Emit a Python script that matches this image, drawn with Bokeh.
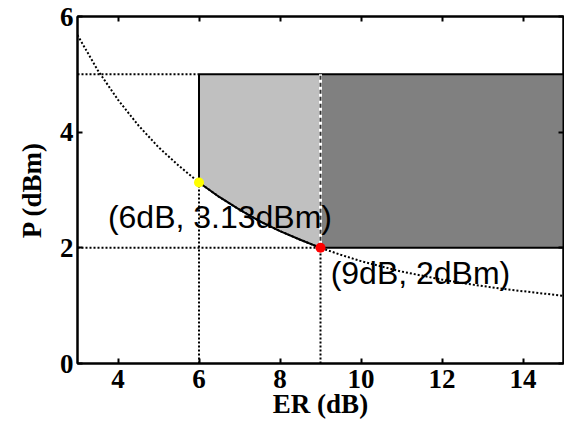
from bokeh.plotting import figure
from bokeh.models import Range1d, LinearAxis, FixedTicker
from bokeh.core.properties import value
from bokeh.embed import file_html
from bokeh.resources import INLINE

# curve: ER (dB) vs P (dBm)
er = [3.0, 3.5, 4.0, 4.5, 5.0, 5.5, 6.0, 6.5, 7.0, 7.5, 8.0, 8.5, 9.0,
      9.5, 10.0, 10.5, 11.0, 11.5, 12.0, 12.5, 13.0, 13.5, 14.0, 14.5, 15.0]
pw = [5.68, 5.07, 4.56, 4.12, 3.74, 3.42, 3.13, 2.88, 2.66, 2.46, 2.29, 2.14, 2.00,
      1.88, 1.77, 1.68, 1.59, 1.52, 1.45, 1.39, 1.34, 1.29, 1.25, 1.21, 1.17]

er_marks = [6, 9]
p_marks = [3.13, 2]
mark_colors = ["#ffff00", "#ff0000"]
mark_labels = ["(6dB, 3.13dBm)", "(9dB, 2dBm)"]
label_x = [3.75, 9.25]
label_y = [2.54, 1.57]
p_upper = 5
er_upper = 15
x_ticks = [4, 6, 8, 10, 12, 14]
y_ticks = [0, 2, 4, 6]

p = figure(frame_width=486, frame_height=347, output_backend="svg", toolbar_location=None,
           x_range=Range1d(3, 15), y_range=Range1d(0, 6),
           min_border_left=77, min_border_right=1, min_border_top=16, min_border_bottom=62,
           x_axis_location=None, y_axis_location=None)
p.grid.visible = False
p.outline_line_color = "black"
p.outline_line_width = 2
p.background_fill_color = "white"

# regions
seg_x = [x for x in er if er_marks[0] <= x <= er_marks[1]]
seg_y = [y for x, y in zip(er, pw) if er_marks[0] <= x <= er_marks[1]]
p.patch(seg_x + [er_marks[1], er_marks[0]], seg_y + [p_upper, p_upper],
        fill_color="#c0c0c0", line_color=None)
p.quad(left=[er_marks[1]], right=[er_upper], bottom=[p_marks[1]], top=[p_upper],
       fill_color="#808080", line_color=None)

# dotted guide lines
dot = dict(line_color="black", line_width=2, line_dash="2 2")
p.line([3, er_marks[0]], [p_upper, p_upper], **dot)
p.line([3, er_marks[1]], [p_marks[1], p_marks[1]], **dot)
p.line([er_marks[0], er_marks[0]], [0, p_marks[0]], **dot)
p.line([er_marks[1], er_marks[1]], [0, p_marks[1]], **dot)

# curve: dotted outside, solid between marks
p.line(er, pw, **dot)
p.line(seg_x, seg_y, line_color="black", line_width=2)

# region borders
p.line([er_marks[0], er_marks[0]], [p_marks[0], p_upper], line_color="black", line_width=2)
p.line([er_marks[0], er_upper], [p_upper, p_upper], line_color="black", line_width=2)
p.line([er_marks[1], er_upper], [p_marks[1], p_marks[1]], line_color="black", line_width=2)
p.line([er_marks[1], er_marks[1]], [p_marks[1], p_upper], line_color="white", line_width=3)
p.line([er_marks[1], er_marks[1]], [p_marks[1], p_upper], line_color="#333333", line_width=2,
       line_dash="4 3")

# points
p.scatter(er_marks, p_marks, size=10, fill_color=mark_colors, line_color=None)

p.text(label_x, label_y, text=mark_labels, text_font=value("Liberation Sans"),
       text_font_size="32px", text_baseline="middle", text_align="left", text_color="black")


def style_axis(ax, ticks):
    ax.ticker = FixedTicker(ticks=ticks)
    ax.axis_line_color = "black"
    ax.axis_line_width = 2
    ax.major_tick_in = 5
    ax.major_tick_out = 0
    ax.major_tick_line_width = 2
    ax.minor_tick_line_color = None
    ax.major_label_text_font = "Liberation Serif"
    ax.major_label_text_font_style = "bold"
    ax.major_label_text_font_size = "27px"
    ax.major_label_text_color = "black"
    ax.axis_label_text_font = "Liberation Serif"
    ax.axis_label_text_font_style = "bold"
    ax.axis_label_text_font_size = "27px"
    ax.axis_label_text_color = "black"


bottom = LinearAxis(axis_label="ER (dB)")
left = LinearAxis(axis_label="P (dBm)")
top = LinearAxis()
right = LinearAxis()
style_axis(bottom, x_ticks)
style_axis(top, x_ticks)
style_axis(left, y_ticks)
style_axis(right, y_ticks)
for ax in (top, right):
    ax.major_label_text_font_size = "0px"
    ax.major_label_text_color = None
    ax.major_label_standoff = 0
bottom.axis_label_standoff = -2
bottom.major_label_standoff = 6
left.axis_label_standoff = 10
left.major_label_standoff = 4
p.add_layout(bottom, "below")
p.add_layout(left, "left")
p.add_layout(top, "above")
p.add_layout(right, "right")

open("out.html", "w").write(file_html(p, INLINE))
